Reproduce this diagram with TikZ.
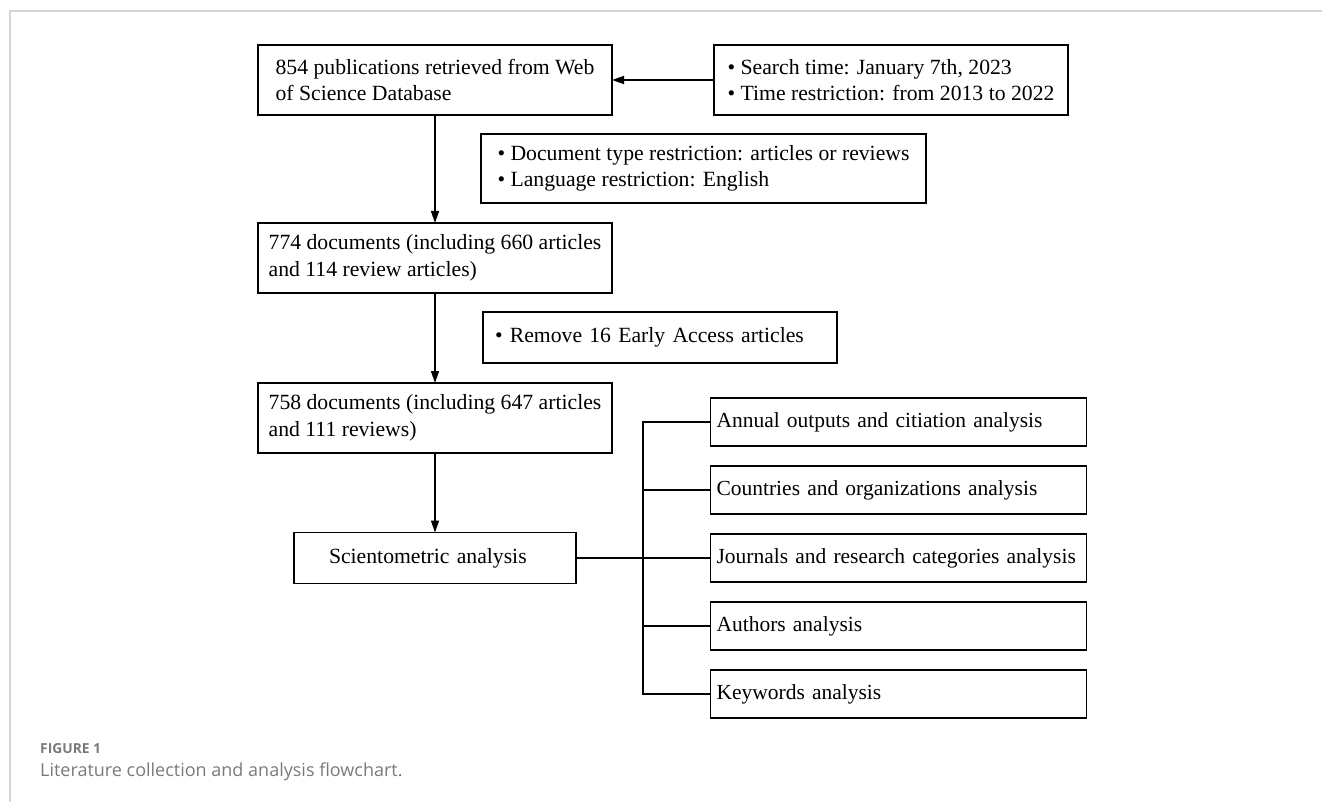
\documentclass[tikz,border=0pt]{standalone}
\usepackage{fontspec}
\setmainfont{Liberation Serif}
\newfontfamily\capfont{Open Sans}
\usetikzlibrary{arrows.meta}
\definecolor{capgrey}{HTML}{7A7A7A}
\definecolor{framegrey}{HTML}{D6D6D6}

\begin{document}
\begin{tikzpicture}[x=1pt, y=-1pt, node distance={178pt}, >={Triangle[length=12pt,width=8pt]},
    pub/.style = {draw, line width=1.3pt, outer sep=0pt, align=left, minimum width=354pt, minimum height=70pt, font=\fontsize{21.7}{26.5}\selectfont}]
                \tikzstyle{filt} = [pub, minimum width=0pt, minimum height=51pt, text width=330pt, inner xsep=12pt]
                \tikzstyle{ana} = [pub, minimum width=0pt, minimum height=48pt, text width=364pt, inner xsep=6pt, font=\fontsize{21.5}{26.5}\selectfont]
                \tikzstyle{verb} = [line width=1.4pt]
                    \useasboundingbox (0,0) rectangle (1322,802);
                    \draw[framegrey, line width=1.5pt] (10,802) -- (10,11) -- (1322,11);

                    \node[pub] (a) at (435,80) {854 publications retrieved from Web\\of Science Database};
                    \node[pub, node distance={456pt}] (b) [right of=a] {\textbullet\ Search time: January 7th, 2023\\\textbullet\ Time restriction: from 2013 to 2022};
                    \node[pub, minimum width=445pt, minimum height=69pt] (c) at (703.5,168.5) {\textbullet\ Document type restriction: articles or reviews\\\textbullet\ Language restriction: English};
                    \node[pub] (d) [below of=a] {774 documents (including 660 articles\\and 114 review articles)};
                    \node[filt] (e) at (660,337.5) {\textbullet\ Remove 16 Early Access articles};
                    \node[pub, node distance={160pt}] (f) [below of=d] {758 documents (including 647 articles\\and 111 reviews)};
                    \node[filt, text width=212pt, inner xsep=35pt] (g) [below of=f, node distance={140pt}] {Scientometric analysis};

                    \node[ana] (h1) at (898.5,422) {Annual outputs and citiation analysis};
                    \node[ana, node distance={68pt}] (h2) [below of=h1] {Countries and organizations analysis};
                    \node[ana, node distance={68pt}] (h3) [below of=h2] {Journals and research categories analysis};
                    \node[ana, node distance={68pt}] (h4) [below of=h3] {Authors analysis};
                    \node[ana, node distance={68pt}] (h5) [below of=h4] {Keywords analysis};
                    \coordinate (stamm) at (643,422);

                    \draw[verb, ->] (b) to (a);
                    \draw[verb, ->] (a) to (d);
                    \draw[verb, ->] (d) to (f);
                    \draw[verb, ->] (f) to (g);
                    \draw[verb] (g) to (g -| h3.west);
                    \draw[verb] (h1.west) -| (stamm) |- (h5.west);
                    \draw[verb] (h2.west) to (h2.west -| stamm);
                    \draw[verb] (h4.west) to (h4.west -| stamm);

                    \node[anchor=west, inner sep=0pt, text=capgrey, font=\capfont\bfseries\fontsize{13.8}{16}\selectfont] (fig) at (40,749) {FIGURE 1};
                    \node[anchor=west, inner sep=0pt, text=capgrey, font=\capfont\fontsize{18}{21}\selectfont] (cap) at (40,772) {Literature collection and analysis flowchart.};

                \end{tikzpicture}
\end{document}
